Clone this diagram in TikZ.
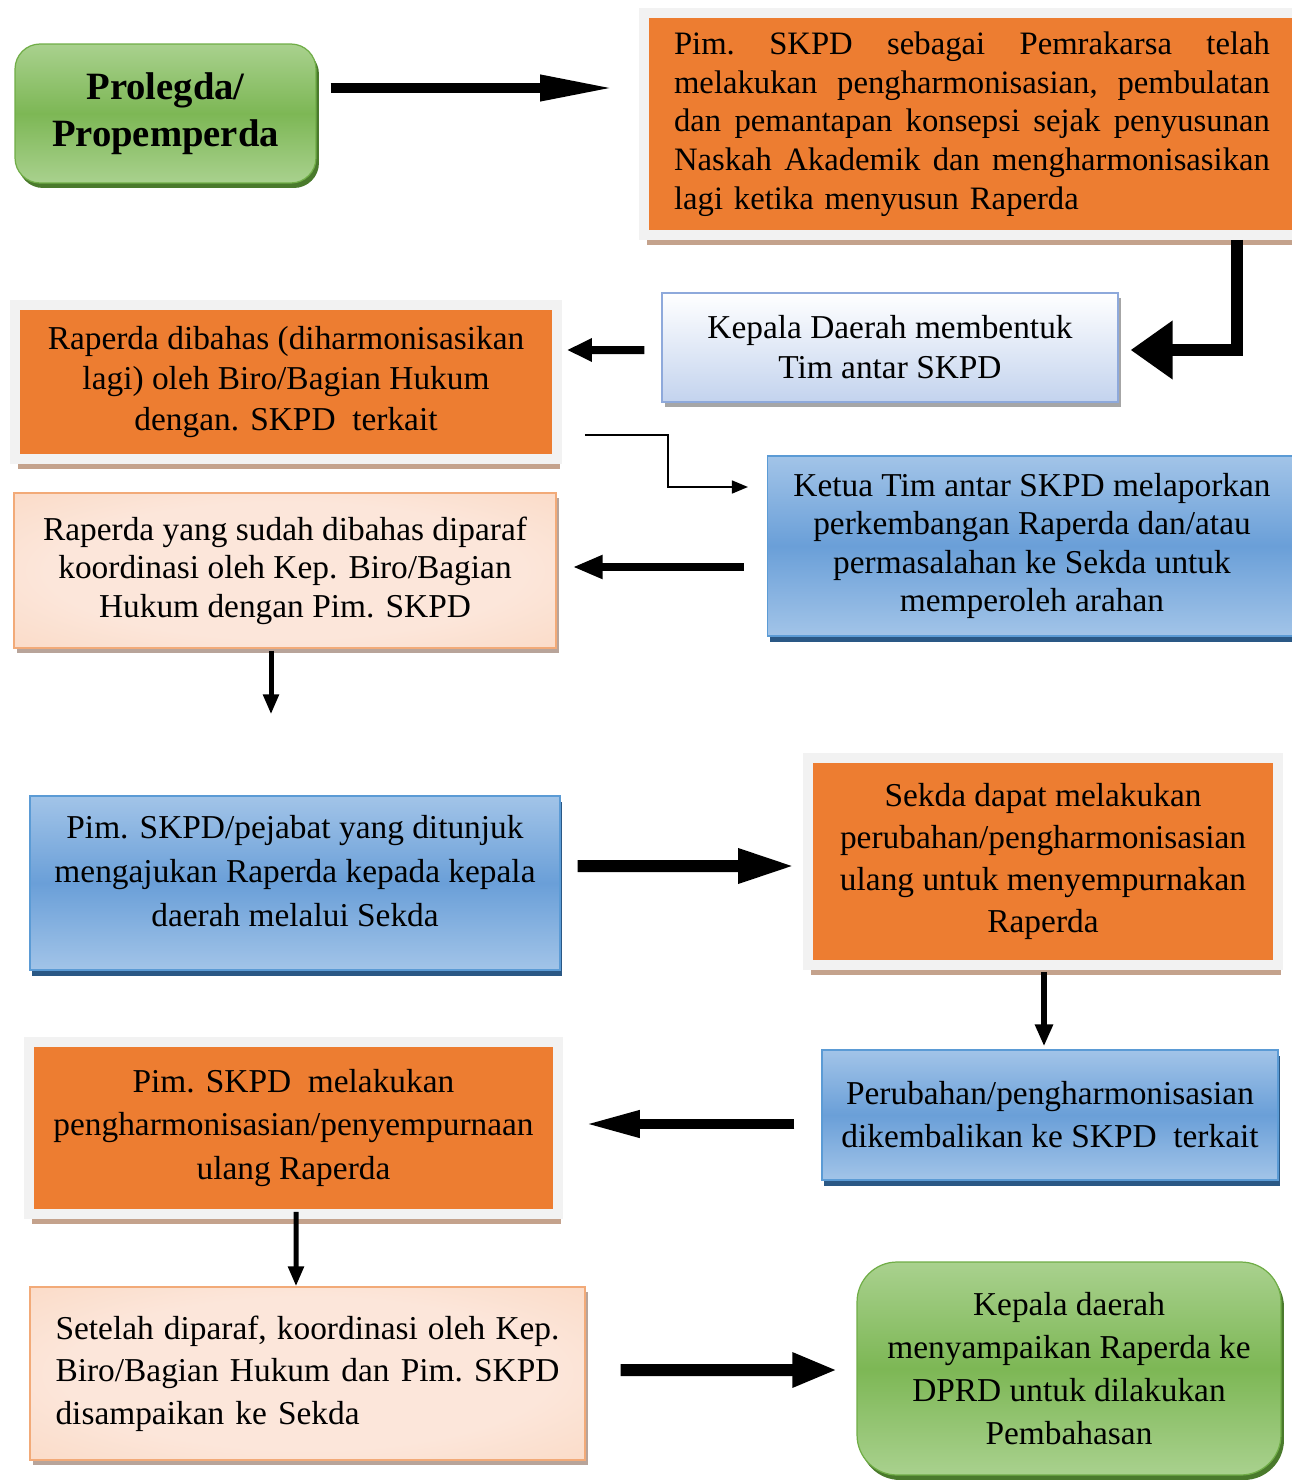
\documentclass[tikz,border=0pt]{standalone}
\usepackage{fontspec}
\setmainfont{Liberation Serif}
\usetikzlibrary{arrows.meta,shadows}

\definecolor{orangeA}{HTML}{ED7D31}
\definecolor{framegrey}{HTML}{F2F2F2}
\definecolor{orshadow}{HTML}{C4A28C}
\definecolor{blueL}{HTML}{A2C4E8}
\definecolor{blueM}{HTML}{6A9FD8}
\definecolor{blueB}{HTML}{5B9BD5}
\definecolor{blueS}{HTML}{2A5885}
\definecolor{greenL}{HTML}{A9D18E}
\definecolor{greenM}{HTML}{7DB755}
\definecolor{greenB}{HTML}{70AD47}
\definecolor{greenS}{HTML}{4A7A2C}
\definecolor{peachL}{HTML}{FCE6DA}
\definecolor{peachM}{HTML}{F9D2B8}
\definecolor{peachD}{HTML}{F2AA78}
\definecolor{peachS}{HTML}{B8A49A}
\definecolor{kdmB}{HTML}{C3D3EE}
\definecolor{kdmE}{HTML}{8EA9DB}

\pgfdeclareradialshading{peachshade}{\pgfpoint{0bp}{0bp}}{%
  color(0bp)=(peachL); color(22bp)=(peachL); color(48bp)=(peachM); color(72bp)=(peachD)}

% one justified line of given width
\newcommand{\jline}[2]{\leavevmode\hbox to #1{#2}}

\tikzset{
  orbox/.style={draw=framegrey, line width=0.2cm, fill=orangeA, align=center,
    drop shadow={shadow xshift=0.06cm, shadow yshift=-0.2cm, fill=orshadow, opacity=1}},
  bluebox/.style={draw=blueB, line width=0.7pt, top color=blueL, bottom color=blueL,
    middle color=blueM, align=center,
    drop shadow={shadow xshift=0.04cm, shadow yshift=-0.12cm, fill=blueS, opacity=1}},
  greenbox/.style={draw=greenB, line width=0.7pt, rounded corners=0.5cm, top color=greenL,
    bottom color=greenL, middle color=greenM, align=center,
    drop shadow={shadow xshift=0.06cm, shadow yshift=-0.1cm, fill=greenS, opacity=1}},
  peachbox/.style={draw=peachD, line width=0.7pt, shading=peachshade, align=center,
    drop shadow={shadow xshift=0.06cm, shadow yshift=-0.1cm, fill=peachS, opacity=1}},
  txt/.style={font=\fontsize{19}{#1}\selectfont},
  arr/.style n args={3}{line width=#1, -{Triangle[length=#2,width=#3]}}
}

\begin{document}
\begin{tikzpicture}[x=0.02cm,y=-0.02cm]
  \useasboundingbox (0,0) rectangle (1291,1480);

  % first row
  \node[greenbox, minimum width=6.02cm, minimum height=2.78cm,
        font=\fontsize{22}{27}\selectfont\bfseries] (prolegda) at (165.5,113.5)
        {Prolegda/\\Propemperda};
  \node[orbox, font=\fontsize{18.6}{22}\selectfont, minimum width=13.12cm, minimum height=4.44cm,
        text width=11.92cm, align=left] (pim) at (972,124)
        {\jline{11.92cm}{Pim.\hfill SKPD\hfill sebagai\hfill Pemrakarsa\hfill telah}\\
         \jline{11.92cm}{melakukan\hfill pengharmonisasian,\hfill pembulatan}\\
         \jline{11.92cm}{dan\hfill pemantapan\hfill konsepsi\hfill sejak\hfill penyusunan}\\
         \jline{11.92cm}{Naskah\hfill Akademik\hfill dan\hfill mengharmonisasikan}\\
         lagi ketika menyusun Raperda};

  % tim antar SKPD
  \node[draw=kdmE, line width=0.7pt, top color=white, bottom color=kdmB, txt=22.8,
        align=center, minimum width=9.12cm, minimum height=2.18cm,
        drop shadow={shadow xshift=0.06cm, shadow yshift=-0.1cm, fill=black!35, opacity=1}]
        (kdm) at (890,347.5) {Kepala Daerah membentuk\\Tim antar SKPD};
  \node[orbox, txt=22.8, minimum width=10.84cm, minimum height=3.08cm] (bahas) at (286,382)
        {Raperda dibahas (diharmonisasikan\\lagi) oleh Biro/Bagian Hukum\\dengan. SKPD\ \ terkait};
  \node[bluebox, txt=21.8, minimum width=10.58cm, minimum height=3.6cm] (ketua) at (1032,546)
        {Ketua Tim antar SKPD melaporkan\\perkembangan Raperda dan/atau\\permasalahan ke Sekda untuk\\memperoleh arahan};
  \node[peachbox, txt=21.9, minimum width=10.84cm, minimum height=3.1cm] (sudah) at (285,570.5)
        {Raperda yang sudah dibahas diparaf\\koordinasi oleh Kep. Biro/Bagian\\Hukum dengan Pim. SKPD};

  % middle
  \node[bluebox, txt=25, text depth=0.5cm, minimum width=10.6cm, minimum height=3.48cm]
        (ajukan) at (295,883)
        {Pim. SKPD/pejabat yang ditunjuk\\mengajukan Raperda kepada kepala\\daerah melalui Sekda};
  \node[orbox, txt=23.9, minimum width=9.4cm, minimum height=4.14cm] (sekda) at (1043,861.5)
        {Sekda dapat melakukan\\perubahan/pengharmonisasian\\ulang untuk menyempurnakan\\Raperda};
  \node[bluebox, txt=24.5, minimum width=9.12cm, minimum height=2.6cm] (ubah) at (1050,1115)
        {Perubahan/pengharmonisasian\\dikembalikan ke SKPD\ \ terkait};
  \node[orbox, txt=25, minimum width=10.58cm, minimum height=3.44cm] (ulang) at (293.5,1128)
        {Pim. SKPD\ \ melakukan\\pengharmonisasian/penyempurnaan\\ulang Raperda};

  % last row
  \node[peachbox, txt=24.2, minimum width=11.1cm, minimum height=3.46cm, text width=10.08cm,
        align=left] (setelah) at (307.5,1373.5)
        {\jline{10.08cm}{Setelah\hfill diparaf,\hfill koordinasi\hfill oleh\hfill Kep.}\\
         \jline{10.08cm}{Biro/Bagian\hfill Hukum\hfill dan\hfill Pim.\hfill SKPD}\\
         disampaikan ke Sekda};
  \node[greenbox, rounded corners=0.8cm, txt=24.5, minimum width=8.48cm, minimum height=4.26cm]
        (dprd) at (1069,1368.5)
        {Kepala daerah\\menyampaikan Raperda ke\\DPRD untuk dilakukan\\Pembahasan};

  % arrows
  \draw[arr={0.2cm}{1.5cm}{0.48cm}] ([shift={(14,-25.5)}]prolegda.east) -- ([shift={(-24,-36)}]pim.west);
  \draw[arr={0.24cm}{0.84cm}{1.12cm}] ([xshift=5.3cm]pim.south) |- ([shift={(12,2.5)}]kdm.east);
  \draw[arr={0.16cm}{0.5cm}{0.44cm}] ([shift={(-17,2.5)}]kdm.west) -- ([shift={(5,-32)}]bahas.east);
  \draw[line width=0.9pt, -{Triangle[length=0.32cm,width=0.26cm]}]
        ([shift={(23,53)}]bahas.east) -- ++(83,0) |- ([shift={(-19,-59)}]ketua.west);
  \draw[arr={0.16cm}{0.6cm}{0.44cm}] ([shift={(-23,21)}]ketua.west) -- ([shift={(16,-3.5)}]sudah.east);
  \draw[arr={0.1cm}{0.4cm}{0.3cm}] ([shift={(-14,2)}]sudah.south) -- ([shift={(-24,-81)}]ajukan.north);
  \draw[arr={0.24cm}{1.14cm}{0.64cm}] ([shift={(17,-17)}]ajukan.east) -- ([shift={(-8,4.5)}]sekda.west);
  \draw[arr={0.12cm}{0.44cm}{0.34cm}] ([shift={(1,2)}]sekda.south) -- ([shift={(-6,-3)}]ubah.north);
  \draw[arr={0.2cm}{1.1cm}{0.5cm}] ([shift={(-27,9)}]ubah.west) -- ([shift={(22,-4)}]ulang.east);
  \draw[arr={0.1cm}{0.4cm}{0.3cm}] ([shift={(2.5,-7)}]ulang.south) -- ([shift={(-11.5,0)}]setelah.north);
  \draw[arr={0.24cm}{0.9cm}{0.64cm}] ([shift={(35,-3.5)}]setelah.east) -- ([shift={(-19,1.5)}]dprd.west);
\end{tikzpicture}
\end{document}
